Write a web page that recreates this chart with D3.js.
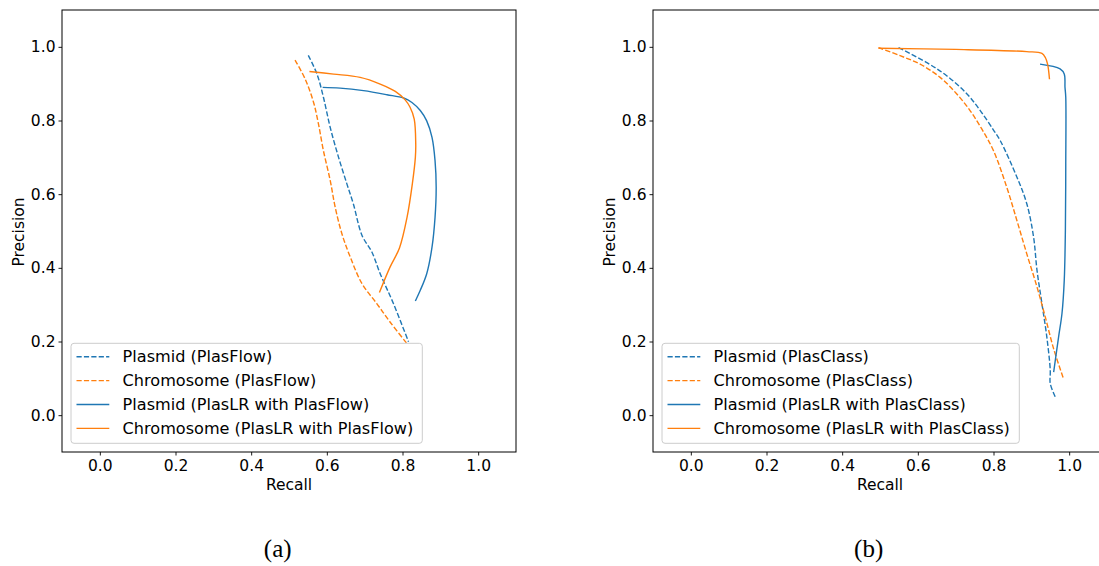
<!DOCTYPE html>
<html>
<head>
<meta charset="utf-8">
<script src="https://cdn.jsdelivr.net/npm/d3@7"></script>
<style>
  html, body { margin: 0; padding: 0; background: #fff; }
  svg { display: block; }
  text { font-family: "DejaVu Sans", sans-serif; fill: #000; }
</style>
</head>
<body>
<svg id="chart" width="1099" height="566"></svg>
<script>
// ---------- data (recall, precision) ----------
const xTicks = [0.0, 0.2, 0.4, 0.6, 0.8, 1.0];
const yTicks = [0.0, 0.2, 0.4, 0.6, 0.8, 1.0];

const plasmidPlasFlow = [
  [0.551, 0.977], [0.574, 0.926], [0.591, 0.863], [0.609, 0.781], [0.631, 0.700],
  [0.653, 0.628], [0.670, 0.574], [0.693, 0.488], [0.719, 0.443], [0.741, 0.384],
  [0.776, 0.303], [0.816, 0.199]
];
const chromosomePlasFlow = [
  [0.516, 0.964], [0.543, 0.912], [0.565, 0.849], [0.578, 0.790], [0.591, 0.718],
  [0.609, 0.637], [0.622, 0.565], [0.640, 0.492], [0.662, 0.429], [0.693, 0.357],
  [0.732, 0.303], [0.767, 0.253], [0.812, 0.194]
];
const plasmidPlasLRFlow = [
  [0.589, 0.890], [0.635, 0.888], [0.697, 0.881], [0.759, 0.870], [0.803, 0.861],
  [0.825, 0.849], [0.847, 0.827], [0.864, 0.799], [0.878, 0.754], [0.886, 0.691],
  [0.889, 0.619], [0.886, 0.537], [0.878, 0.456], [0.864, 0.384], [0.847, 0.339],
  [0.834, 0.310]
];
const chromosomePlasLRFlow = [
  [0.554, 0.933], [0.618, 0.926], [0.688, 0.917], [0.741, 0.899], [0.781, 0.879],
  [0.807, 0.856], [0.820, 0.836], [0.831, 0.804], [0.835, 0.736], [0.834, 0.700],
  [0.826, 0.628], [0.812, 0.537], [0.792, 0.454], [0.767, 0.402], [0.739, 0.333]
];

const plasmidPlasClass = [
  [0.549, 0.998], [0.624, 0.957], [0.677, 0.921], [0.730, 0.872], [0.765, 0.827],
  [0.800, 0.774], [0.818, 0.745], [0.862, 0.646], [0.888, 0.574], [0.906, 0.483],
  [0.915, 0.393], [0.928, 0.303], [0.941, 0.212], [0.950, 0.122], [0.950, 0.086],
  [0.963, 0.050]
];
const chromosomePlasClass = [
  [0.496, 0.998], [0.553, 0.976], [0.606, 0.953], [0.659, 0.917], [0.703, 0.872],
  [0.738, 0.827], [0.769, 0.777], [0.800, 0.718], [0.835, 0.619], [0.862, 0.528],
  [0.888, 0.438], [0.915, 0.348], [0.937, 0.266], [0.959, 0.180], [0.985, 0.099]
];
const plasmidPlasLRClass = [
  [0.923, 0.953], [0.976, 0.940], [0.987, 0.926], [0.989, 0.890], [0.991, 0.863],
  [0.991, 0.682], [0.990, 0.501], [0.987, 0.366], [0.981, 0.276], [0.972, 0.212],
  [0.959, 0.117]
];
const chromosomePlasLRClass = [
  [0.496, 0.996], [0.700, 0.993], [0.888, 0.987], [0.928, 0.982], [0.937, 0.971],
  [0.943, 0.953], [0.948, 0.912]
];

const labelsA = ["Plasmid (PlasFlow)", "Chromosome (PlasFlow)",
                 "Plasmid (PlasLR with PlasFlow)", "Chromosome (PlasLR with PlasFlow)"];
const labelsB = ["Plasmid (PlasClass)", "Chromosome (PlasClass)",
                 "Plasmid (PlasLR with PlasClass)", "Chromosome (PlasLR with PlasClass)"];

// ---------- drawing ----------
const BLUE = "#1f77b4", ORANGE = "#ff7f0e";
const styles = [
  { color: BLUE, dash: "5.2,2.2" },
  { color: ORANGE, dash: "5.2,2.2" },
  { color: BLUE, dash: null },
  { color: ORANGE, dash: null }
];
const svg = d3.select("#chart");
const FS = 15.5;
const LFS = 16.1;

function panel(id, left, right, top, bottom, seriesList, labels, caption) {
  const x = d3.scaleLinear().domain([-0.1, 1.1]).range([left, right]);
  const y = d3.scaleLinear().domain([-0.1, 1.1]).range([bottom, top]);
  const g = svg.append("g");

  svg.append("clipPath").attr("id", "clip" + id)
    .append("rect").attr("x", left).attr("y", top)
    .attr("width", right - left).attr("height", bottom - top);

  const line = d3.line().x(d => x(d[0])).y(d => y(d[1])).curve(d3.curveCatmullRom.alpha(0.5));
  const lg = g.append("g").attr("clip-path", `url(#clip${id})`);
  seriesList.forEach((s, i) => {
    lg.append("path").datum(s)
      .attr("d", line)
      .attr("fill", "none")
      .attr("stroke", styles[i].color)
      .attr("stroke-width", 1.4)
      .attr("stroke-dasharray", styles[i].dash);
  });

  // axes
  const xAxis = d3.axisBottom(x).tickValues(xTicks).tickFormat(d3.format(".1f"))
    .tickSize(3.5).tickPadding(4);
  const gx = g.append("g").attr("transform", `translate(0,${bottom})`).call(xAxis);
  const yAxis = d3.axisLeft(y).tickValues(yTicks).tickFormat(d3.format(".1f"))
    .tickSize(3.5).tickPadding(3);
  const gy = g.append("g").attr("transform", `translate(${left},0)`).call(yAxis);
  [gx, gy].forEach(a => {
    a.select(".domain").remove();
    a.selectAll("line").attr("stroke", "#000").attr("stroke-width", 0.9);
    a.selectAll("text").style("font-family", "DejaVu Sans").style("font-size", FS + "px").attr("fill", "#000");
  });

  // frame
  g.append("rect").attr("x", left).attr("y", top)
    .attr("width", right - left).attr("height", bottom - top)
    .attr("fill", "none").attr("stroke", "#000").attr("stroke-width", 1);

  // axis labels
  g.append("text").attr("x", (left + right) / 2).attr("y", 490)
    .attr("text-anchor", "middle").style("font-size", FS + "px").text("Recall");
  g.append("text")
    .attr("transform", `translate(${left - 38},${(top + bottom) / 2 + 1}) rotate(-90)`)
    .attr("text-anchor", "middle").style("font-size", FS + "px").text("Precision");

  // legend
  const lx = left + 9, ly = 343.3, lw = labels === labelsA ? 351.3 : 357.3, lh = 100;
  const leg = g.append("g");
  leg.append("rect").attr("x", lx).attr("y", ly).attr("width", lw).attr("height", lh)
    .attr("rx", 3).attr("fill", "#fff").attr("fill-opacity", 0.8)
    .attr("stroke", "#cccccc").attr("stroke-width", 1);
  labels.forEach((lab, i) => {
    const yy = ly + 13.4 + i * 23.9;
    leg.append("line").attr("x1", lx + 5.5).attr("x2", lx + 38.3)
      .attr("y1", yy).attr("y2", yy)
      .attr("stroke", styles[i].color).attr("stroke-width", 1.4)
      .attr("stroke-dasharray", styles[i].dash);
    leg.append("text").attr("x", lx + 51.6).attr("y", yy).attr("dy", "0.36em")
      .style("font-size", LFS + "px").text(lab);
  });

  // caption
  g.append("text").attr("x", caption.x).attr("y", 557)
    .attr("text-anchor", "middle")
    .style("font-family", "Liberation Serif, serif").style("font-size", "25px")
    .text(caption.t);
}

panel("a", 62, 516, 10, 452,
  [plasmidPlasFlow, chromosomePlasFlow, plasmidPlasLRFlow, chromosomePlasLRFlow],
  labelsA, { x: 277.7, t: "(a)" });
panel("b", 653, 1107, 10, 452,
  [plasmidPlasClass, chromosomePlasClass, plasmidPlasLRClass, chromosomePlasLRClass],
  labelsB, { x: 868.7, t: "(b)" });
</script>
</body>
</html>
